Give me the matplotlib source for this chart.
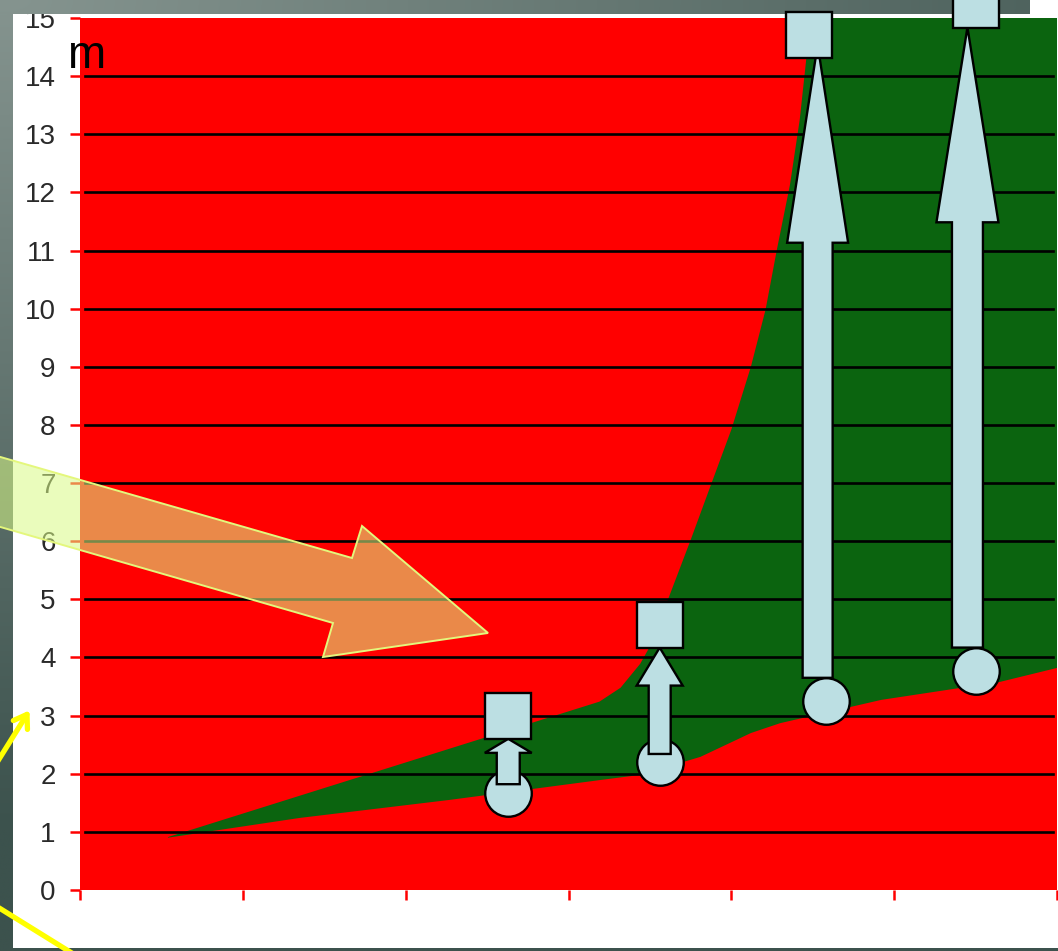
import numpy as np
import matplotlib
matplotlib.use("Agg")
import matplotlib.pyplot as plt
from matplotlib.patches import Polygon, Rectangle, FancyArrow, FancyArrowPatch
from matplotlib.colors import to_rgb

plt.rcParams['font.family'] = ['Liberation Sans', 'DejaVu Sans']

# ---- data (heights in m) ----
# upper and lower edges of the green band
upper_x = [0.54, 3.19, 3.32, 3.44, 3.53, 3.61, 3.75, 3.88, 4.00, 4.12, 4.21,
           4.28, 4.36, 4.42, 4.46, 4.49, 4.51, 6.00]
upper_y = [0.91, 3.24, 3.48, 3.89, 4.34, 4.99, 6.02, 7.01, 7.92, 9.00, 9.98,
           11.02, 12.13, 13.25, 14.29, 15.00, 15.50, 15.50]
lower_x = [0.54, 1.35, 2.27, 3.19, 3.44, 3.81, 4.12, 4.30, 4.92, 5.65, 6.00]
lower_y = [0.90, 1.24, 1.55, 1.89, 1.98, 2.29, 2.70, 2.87, 3.27, 3.58, 3.82]

# points before (circles) and after (squares)
before_x = [2.63, 3.56, 4.58, 5.50]
before_y = [1.67, 2.20, 3.25, 3.77]
after_x = [2.63, 3.56, 4.48, 5.50]
after_y = [3.00, 4.55, 14.71, 15.23]

# rise arrows between them
arrow_x = [2.63, 3.56, 4.53, 5.45]
arrow_from = [1.82, 2.34, 3.65, 4.17]
arrow_to = [2.60, 4.17, 14.54, 14.84]

y_ticks = list(range(0, 16))
x_ticks = list(range(0, 7))
unit_label = "m"

# ---- styles ----
W, H = 1058, 951
RED = "#ff0000"
GREEN = "#0b640f"
PALE = "#bcdfe3"
shaft_px = [23, 22, 30, 31]
head_w_px = [47, 46, 61, 62]
head_len_px = [14, 38, 198, 195]


def fx(px):
    return px / W


def fy(py):
    return 1 - py / H


fig = plt.figure(figsize=(W / 100, H / 100), dpi=100)

# slide background gradient
c0 = np.array(to_rgb("#85948f"))
c1 = np.array(to_rgb("#3c524d"))


def gradient_img(x0, x1, y0, y1, n=200):
    xs = np.linspace(x0, x1, n) / W
    ys = np.linspace(y0, y1, n) / H
    X, Y = np.meshgrid(xs, ys)
    t = np.clip(np.hypot(X * 0.75, Y * 1.15), 0, 1)[..., None]
    return c0 * (1 - t) + c1 * t


bg = fig.add_axes([0, 0, 1, 1], zorder=-10)
bg.imshow(gradient_img(0, W, 0, H), aspect="auto", extent=[0, 1, 0, 1],
          interpolation="bilinear")
bg.set_axis_off()

# white panel behind the chart
fig.add_artist(Rectangle((fx(13), fy(948)), fx(W - 13), fy(14) - fy(948),
                         transform=fig.transFigure, facecolor="white",
                         edgecolor="none", zorder=-5))
fig.add_artist(Rectangle((fx(1030), fy(14)), fx(W - 1030), fy(0) - fy(14),
                         transform=fig.transFigure, facecolor="white",
                         edgecolor="none", zorder=-5))

# ---- main chart ----
rect = [fx(80), fy(890), fx(1057) - fx(80), fy(18) - fy(890)]
ax = fig.add_axes(rect, zorder=0)
ax.set_facecolor(RED)
ax.set_xlim(0, 6)
ax.set_ylim(0, 15)

band_x = np.concatenate([upper_x, lower_x[::-1]])
band_y = np.concatenate([upper_y, lower_y[::-1]])
ax.fill(band_x, band_y, color=GREEN, lw=0, zorder=1)

for v in y_ticks[1:-1]:
    ax.axhline(v, xmin=0.005, xmax=0.996, color="black", lw=1.9, zorder=2)

for s in ax.spines.values():
    s.set_visible(False)
ax.set_yticks(y_ticks)
ax.set_xticks(x_ticks)
ax.tick_params(axis="y", direction="out", length=7.5, width=1.8, color=RED,
               labelsize=20, labelcolor="#2a2a2a", pad=10)
ax.tick_params(axis="x", direction="out", length=7.5, width=1.8, color=RED,
               labelbottom=False)

# slide band over the top edge
band = fig.add_axes([0, fy(14), fx(1030), fy(0) - fy(14)], zorder=1)
band.imshow(gradient_img(0, 1030, 0, 14, n=50), aspect="auto",
            extent=[0, 1, 0, 1], interpolation="bilinear")
band.set_axis_off()

# ---- overlay: markers and rise arrows ----
ov = fig.add_axes(rect, zorder=2)
ov.set_xlim(0, 6)
ov.set_ylim(0, 15)
ov.set_axis_off()

px_x = ov.transData.transform((1, 0))[0] - ov.transData.transform((0, 0))[0]
px_y = ov.transData.transform((0, 1))[1] - ov.transData.transform((0, 0))[1]

ov.plot(before_x, before_y, linestyle="none", marker="o", ms=33.5,
        mfc=PALE, mec="black", mew=1.7, clip_on=False, zorder=3)
for i in range(len(arrow_x)):
    ov.add_patch(FancyArrow(arrow_x[i], arrow_from[i], 0,
                            arrow_to[i] - arrow_from[i],
                            width=shaft_px[i] / px_x,
                            head_width=head_w_px[i] / px_x,
                            head_length=head_len_px[i] / px_y,
                            length_includes_head=True,
                            facecolor=PALE, edgecolor="black", lw=1.7,
                            clip_on=False, zorder=4))
ov.plot(after_x, after_y, linestyle="none", marker="s", ms=33,
        mfc=PALE, mec="black", mew=1.7, clip_on=False, zorder=5)

fig.text(fx(67), fy(68), unit_label, fontsize=33, color="black",
         ha="left", va="baseline", zorder=6)

# ---- callout arrow ----
callout = [(-10, 454), (352, 558), (362, 526), (488, 633), (323, 657),
           (333, 623), (-10, 524)]
fig.add_artist(Polygon([(fx(a), fy(b)) for a, b in callout], closed=True,
                       transform=fig.transFigure,
                       facecolor=(0.855, 0.984, 0.525, 0.55),
                       edgecolor="#e4f77c", lw=1.4, zorder=7))

# yellow pointer lines
fig.add_artist(FancyArrowPatch((fx(-4), fy(764)), (fx(31), fy(708)),
                               transform=fig.transFigure,
                               arrowstyle="->,head_length=9,head_width=6",
                               color="#ffff00", lw=3.8, zorder=7,
                               capstyle="round", joinstyle="round"))
fig.add_artist(FancyArrowPatch((fx(-4), fy(906)), (fx(75), fy(955)),
                               transform=fig.transFigure, arrowstyle="-",
                               color="#ffff00", lw=3.8, zorder=7))

fig.savefig("out.png", dpi=100)
